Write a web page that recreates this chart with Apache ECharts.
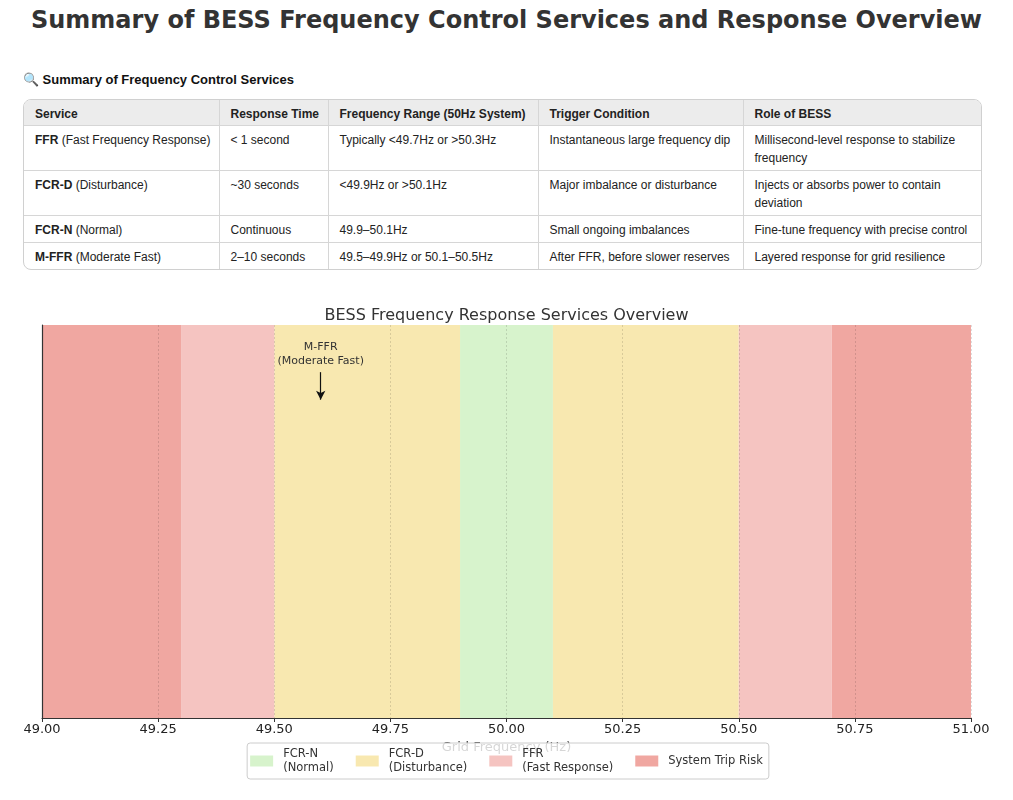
<!DOCTYPE html>
<html>
<head>
<meta charset="utf-8">
<script src="https://cdn.jsdelivr.net/npm/echarts@6/dist/echarts.min.js"></script>
<style>
body{margin:0;background:#fff;width:1013px;height:800px;overflow:hidden;position:relative;font-family:"Liberation Sans",Arial,sans-serif;color:#222}
#title{position:absolute;top:6px;left:0;width:1013px;text-align:center;font-family:"DejaVu Sans";font-weight:bold;font-size:24px;color:#333}
#sub{position:absolute;top:72px;left:23px;font-weight:bold;font-size:13px;color:#111}
#tbl{position:absolute;top:99px;left:23px;width:957px;border:1px solid #d0d0d0;border-radius:8px;overflow:hidden}
table{border-collapse:collapse;width:100%;font-size:12px;table-layout:fixed}
th,td{text-align:left;vertical-align:top;line-height:18px;padding:5px 6px 3px 11px;border-right:1px solid #d6d6d6;border-bottom:1px solid #d6d6d6}
th{background:#ececec;font-weight:bold;padding-bottom:2px}
th:last-child,td:last-child{border-right:none}
tr:last-child td{border-bottom:none}
#chart{position:absolute;top:290px;left:0;width:1013px;height:510px}
</style>
</head>
<body>
<div id="title">Summary of BESS Frequency Control Services and Response Overview</div>
<div id="sub">🔍 Summary of Frequency Control Services</div>
<div id="tbl"><table id="t"></table></div>
<div id="chart"></div>
<script>
// table content
var tableHeaders = ['Service', 'Response Time', 'Frequency Range (50Hz System)', 'Trigger Condition', 'Role of BESS'];
var colWidths = [195, 109, 210, 205, 238];
var serviceCodes = ['FFR', 'FCR-D', 'FCR-N', 'M-FFR'];
var serviceNames = ['(Fast Frequency Response)', '(Disturbance)', '(Normal)', '(Moderate Fast)'];
var responseTimes = ['< 1 second', '~30 seconds', 'Continuous', '2–10 seconds'];
var freqRanges = ['Typically <49.7Hz or >50.3Hz', '<49.9Hz or >50.1Hz', '49.9–50.1Hz', '49.5–49.9Hz or 50.1–50.5Hz'];
var triggers = ['Instantaneous large frequency dip', 'Major imbalance or disturbance', 'Small ongoing imbalances', 'After FFR, before slower reserves'];
var roles = ['Millisecond-level response to stabilize frequency', 'Injects or absorbs power to contain deviation', 'Fine-tune frequency with precise control', 'Layered response for grid resilience'];

// chart content
var xMin = 49.0, xMax = 51.0, xStep = 0.25;
var bandNames = ['FCR-N\n(Normal)', 'FCR-D\n(Disturbance)', 'FFR\n(Fast Response)', 'System Trip Risk'];
var bandColors = ['#d7f3cc', '#f8e8b0', '#f5c4c1', '#f0a7a1'];
var bandRanges = [
    [[49.9, 50.1]],
    [[49.5, 49.9], [50.1, 50.5]],
    [[49.3, 49.5], [50.5, 50.7]],
    [[49.0, 49.3], [50.7, 51.0]]
];
var noteText = 'M-FFR\n(Moderate Fast)';
var noteX = 49.6;
var noteFrom = 0.88, noteTo = 0.81;

function esc(s) {
    return s.replace(/&/g, '&amp;').replace(/</g, '&lt;').replace(/>/g, '&gt;');
}

var html = '<colgroup>';
colWidths.forEach(function (w) { html += '<col style="width:' + w + 'px">'; });
html += '</colgroup><tr>';
tableHeaders.forEach(function (h) { html += '<th>' + esc(h) + '</th>'; });
html += '</tr>';
serviceCodes.forEach(function (code, i) {
    html += '<tr><td><b>' + esc(code) + '</b> ' + esc(serviceNames[i]) + '</td>' +
        '<td>' + esc(responseTimes[i]) + '</td>' +
        '<td>' + esc(freqRanges[i]) + '</td>' +
        '<td>' + esc(triggers[i]) + '</td>' +
        '<td>' + esc(roles[i]) + '</td></tr>';
});
document.getElementById('t').innerHTML = html;

var chart = echarts.init(document.getElementById('chart'));
var font = 'DejaVu Sans';

var series = bandNames.map(function (name, i) {
    return {
        name: name,
        type: 'line',
        data: [],
        itemStyle: {color: bandColors[i]},
        markArea: {
            silent: true,
            itemStyle: {color: bandColors[i]},
            data: bandRanges[i].map(function (r) {
                return [{xAxis: r[0]}, {xAxis: r[1]}];
            })
        }
    };
});
series.push({
    name: 'note',
    type: 'line',
    data: [],
    z: 6,
    markLine: {
        silent: true,
        symbol: ['none', 'arrow'],
        symbolSize: [7, 9],
        lineStyle: {color: '#111', width: 1.2, type: 'solid'},
        label: {
            show: true,
            position: 'start',
            distance: 4,
            formatter: noteText,
            color: '#333',
            fontFamily: font,
            fontSize: 11,
            lineHeight: 14
        },
        data: [[{coord: [noteX, noteFrom]}, {coord: [noteX, noteTo]}]]
    }
});

var option = {
    animation: false,
    title: {
        text: 'BESS Frequency Response Services Overview',
        left: 'center',
        top: 13,
        textStyle: {fontFamily: font, fontSize: 16, fontWeight: 'normal', color: '#333'}
    },
    grid: {left: 42, right: 42, top: 35, bottom: 82},
    legend: {
        data: bandNames,
        left: 'center',
        top: 453,
        z: 10,
        icon: 'rect',
        itemWidth: 23,
        itemHeight: 11,
        itemGap: 22,
        padding: [4, 6, 4, 3],
        backgroundColor: 'rgba(255,255,255,0.8)',
        borderColor: '#ccc',
        borderWidth: 1,
        borderRadius: 3,
        selectedMode: false,
        textStyle: {fontFamily: font, fontSize: 11.5, color: '#333', lineHeight: 14, padding: [0, 0, 0, 5]}
    },
    xAxis: {
        type: 'value',
        min: xMin,
        max: xMax,
        interval: xStep,
        z: 3,
        name: 'Grid Frequency (Hz)',
        nameLocation: 'middle',
        nameGap: 22,
        nameTextStyle: {fontFamily: font, fontSize: 13, color: '#333'},
        axisLine: {lineStyle: {color: '#333', width: 1.2}},
        axisTick: {show: true, length: 4, lineStyle: {color: '#333'}},
        axisLabel: {
            fontFamily: font, fontSize: 13, color: '#222', margin: 5,
            formatter: function (v) { return v.toFixed(2); }
        },
        splitLine: {show: true, lineStyle: {color: 'rgba(0,0,0,0.13)', type: [2, 2], width: 1}}
    },
    yAxis: {
        type: 'value',
        min: 0,
        max: 1,
        z: 4,
        axisLine: {show: true, lineStyle: {color: '#333', width: 1.2}},
        axisTick: {show: false},
        axisLabel: {show: false},
        splitLine: {show: false}
    },
    series: series
};
chart.setOption(option);
</script>
</body>
</html>
